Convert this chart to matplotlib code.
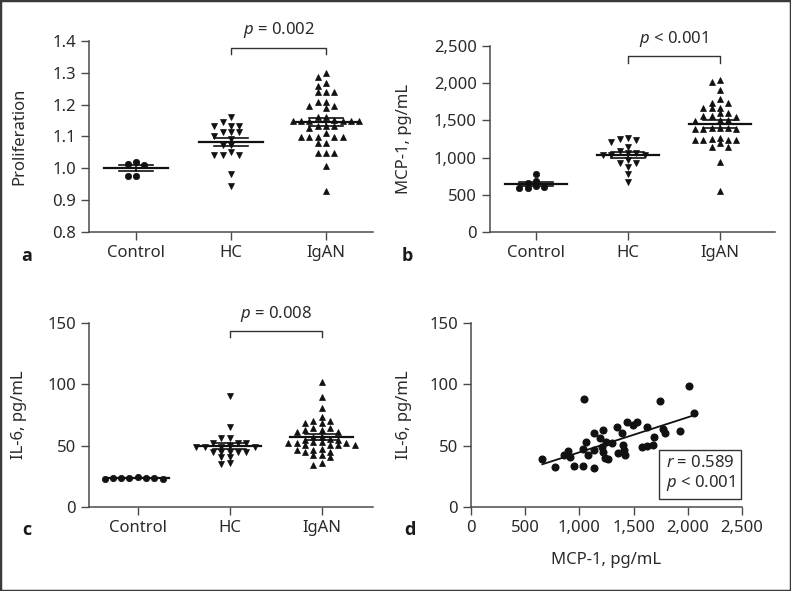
import numpy as np
import matplotlib
matplotlib.use("Agg")
import matplotlib.pyplot as plt
from matplotlib.patches import Rectangle
from matplotlib.ticker import FuncFormatter

plt.rcParams['font.family'] = ['Noto Sans', 'DejaVu Sans']
plt.rcParams['mathtext.fontset'] = 'custom'
plt.rcParams['mathtext.it'] = 'Noto Sans:italic'
plt.rcParams['mathtext.rm'] = 'Noto Sans'

# ---------------- data ----------------
groups = ["Control", "HC", "IgAN"]

prolif_control = [1.021, 1.013, 1.012, 0.977, 0.977]
prolif_hc = [1.160, 1.146, 1.133, 1.133, 1.133, 1.113, 1.113, 1.113, 1.100, 1.093,
             1.073, 1.073, 1.050, 1.042, 1.042, 1.042, 0.982, 0.943]
prolif_igan = [1.299, 1.286, 1.269, 1.260, 1.239, 1.239, 1.239, 1.209, 1.209, 1.196,
               1.196, 1.189, 1.162, 1.162, 1.150, 1.149, 1.149, 1.152, 1.149, 1.149,
               1.150, 1.133, 1.133, 1.133, 1.126, 1.110, 1.098, 1.098, 1.098, 1.098,
               1.098, 1.079, 1.079, 1.049, 1.049, 1.049, 1.008, 0.929]

mcp_control = [780, 660, 620, 590, 590, 600, 690]
mcp_hc = [1250, 1214, 1240, 1260, 1138, 1089, 1060, 1040, 1040, 1040, 1060, 968,
          923, 923, 878, 780, 668]
mcp_igan = [2016, 2043, 1908, 1787, 1738, 1738, 1673, 1660, 1673, 1603, 1603, 1559,
            1550, 1559, 1500, 1510, 1496, 1394, 1380, 1390, 1400, 1394, 1380, 1236,
            1192, 1260, 1236, 1250, 1236, 1230, 1138, 1138, 937, 551]

il6_control = [24.7, 23.4, 23.4, 23.2, 23.2, 23.4, 23.6, 23.6]
il6_hc = [90.5, 65.5, 56.0, 56.0, 52.4, 52.4, 52.4, 49.2, 49.2, 50.0, 49.2, 49.2,
          45.1, 45.1, 45.1, 45.1, 45.1, 41.0, 41.0, 35.0, 36.1]
il6_igan = [102.0, 89.4, 80.4, 73.1, 70.0, 68.2, 68.2, 70.0, 62.8, 61.4, 64.4, 64.4,
            61.4, 62.8, 57.3, 57.3, 54.6, 53.2, 54.6, 55.5, 53.2, 51.9, 51.9, 50.5,
            50.5, 51.9, 50.5, 50.5, 46.5, 45.1, 47.5, 45.1, 46.5, 42.4, 41.0, 42.4,
            34.2, 35.6]

scatter_mcp = [658, 775, 858, 898, 913, 950, 1036, 1138, 1045, 1036, 1058, 1076, 1138,
               1138, 1190, 1221, 1205, 1221, 1236, 1267, 1245, 1298, 1344, 1390, 1353,
               1405, 1414, 1420, 1436, 1497, 1528, 1620, 1580, 1620, 1682, 1691, 1768,
               1790, 1744, 1928, 2014, 2060]
scatter_il6 = [39.1, 32.9, 42.4, 45.9, 41.0, 33.7, 33.7, 31.5, 87.8, 47.3, 53.2, 42.4,
               46.5, 60.1, 56.0, 62.8, 49.2, 45.1, 39.7, 38.9, 53.2, 51.9, 65.5, 60.6,
               44.3, 50.5, 46.5, 42.4, 69.0, 66.8, 69.5, 65.5, 48.7, 49.7, 50.5, 57.3,
               63.3, 60.6, 86.4, 62.2, 98.6, 76.9]

p_texts = ["$p$ = 0.002", "$p$ < 0.001", "$p$ = 0.008"]
corr_text = "$r$ = 0.589\n$p$ < 0.001"

# ---------------- layout ----------------
W, H = 791, 591
fig = plt.figure(figsize=(W / 100, H / 100), dpi=100)
SPINE = '#4a4a4a'
TXT = '#2a2a2a'
PT = '#111111'


def add_ax(l, t, r, b):
    ax = fig.add_axes([l / W, 1 - b / H, (r - l) / W, (b - t) / H])
    for s in ['top', 'right']:
        ax.spines[s].set_visible(False)
    for s in ['left', 'bottom']:
        ax.spines[s].set_color(SPINE)
        ax.spines[s].set_linewidth(1.1)
    ax.tick_params(direction='out', length=5.5, width=1.0, color=SPINE,
                   labelsize=12, labelcolor=TXT, pad=4)
    return ax


def comma(v, pos):
    return f"{int(round(v)):,}"


def swarm(ax, vals, center, marker, ms):
    vals = np.asarray(vals, float)
    x0, x1 = ax.get_xlim()
    y0, y1 = ax.get_ylim()
    bb = ax.get_position()
    xpp = (x1 - x0) / (bb.width * W)
    ypp = (y1 - y0) / (bb.height * H)
    step = 8.3
    order = np.argsort(-vals, kind='stable')
    placed = []
    xs = np.zeros(len(vals))
    for i in order:
        ypx = (vals[i] - y0) / ypp
        for k in [0, -1, 1, -2, 2, -3, 3, -4, 4, -5, 5]:
            xpx = k * step
            ok = all(not (abs(xpx - px) < step * 0.95 and abs(ypx - py) < 5.0)
                     for px, py in placed)
            if ok:
                break
        placed.append((xpx, ypx))
        xs[i] = center + xpx * xpp
    ax.plot(xs, vals, linestyle='none', marker=marker, ms=ms, color=PT,
            mec=PT, mew=0.5, zorder=3, clip_on=False)
    m = vals.mean()
    sem = vals.std(ddof=1) / np.sqrt(len(vals))
    ax.plot([center - 0.34, center + 0.34], [m, m], color=PT, lw=1.6, zorder=4)
    for v in (m - sem, m + sem):
        ax.plot([center - 0.18, center + 0.18], [v, v], color=PT, lw=1.2, zorder=4)
    ax.plot([center, center], [m - sem, m + sem], color=PT, lw=1.2, zorder=4)


def bracket(ax, low, high, ytext, text):
    ax.plot([1, 1, 2, 2], [low, high, high, low], color='#333333', lw=1.0,
            clip_on=False)
    ax.text(1.5, ytext, text, ha='center', va='center', fontsize=12, color=TXT,
            clip_on=False)


def column_panel(ax, data, ylabel, markers, ms):
    ax.set_xticks(range(3))
    ax.set_xticklabels(groups)
    for i, (vals, mk, s) in enumerate(zip(data, markers, ms)):
        swarm(ax, vals, i, mk, s)
    ax.set_ylabel(ylabel, fontsize=12, color=TXT)


markers = ['o', 'v', '^']
msizes = [4.6, 4.6, 4.6]

# panel a
axa = add_ax(89, 41, 373, 232)
axa.set_xlim(-0.495, 2.495)
axa.set_ylim(0.8, 1.4)
axa.set_yticks(np.arange(0.8, 1.41, 0.1))
axa.yaxis.set_major_formatter(FuncFormatter(lambda v, p: f"{v:.1f}"))
column_panel(axa, [prolif_control, prolif_hc, prolif_igan], "Proliferation", markers, msizes)
axa.yaxis.set_label_coords(-0.218, 0.5)
bracket(axa, 1.359, 1.377, 1.434, p_texts[0])

# panel b
axb = add_ax(490, 46, 775, 232)
axb.set_xlim(-0.5, 2.6)
axb.set_ylim(0, 2500)
axb.set_yticks(np.arange(0, 2501, 500))
axb.yaxis.set_major_formatter(FuncFormatter(comma))
column_panel(axb, [mcp_control, mcp_hc, mcp_igan], "MCP-1, pg/mL", markers, msizes)
axb.yaxis.set_label_coords(-0.274, 0.5)
bracket(axb, 2275, 2370, 2594, p_texts[1])

# panel c
axc = add_ax(89, 323, 373, 507)
axc.set_xlim(-0.53, 2.56)
axc.set_ylim(0, 150)
axc.set_yticks([0, 50, 100, 150])
column_panel(axc, [il6_control, il6_hc, il6_igan], "IL-6, pg/mL", markers, msizes)
axc.yaxis.set_label_coords(-0.218, 0.5)
bracket(axc, 138.3, 143.7, 157.5, p_texts[2])

# panel d
axd = add_ax(471, 323, 742, 507)
axd.set_xlim(0, 2500)
axd.set_ylim(0, 150)
axd.set_yticks([0, 50, 100, 150])
axd.set_xticks(np.arange(0, 2501, 500))
axd.xaxis.set_major_formatter(FuncFormatter(comma))
axd.plot(scatter_mcp, scatter_il6, linestyle='none', marker='o', ms=4.8, color=PT,
         zorder=3)
xs = np.array(scatter_mcp, float)
ys = np.array(scatter_il6, float)
k, b0 = np.polyfit(xs, ys, 1)
xl = np.array([xs.min(), xs.max()])
axd.plot(xl, k * xl + b0, color=PT, lw=1.3, zorder=2)
axd.set_ylabel("IL-6, pg/mL", fontsize=12, color=TXT)
axd.yaxis.set_label_coords(-0.218, 0.5)
axd.set_xlabel("MCP-1, pg/mL", fontsize=12, color=TXT)
axd.xaxis.set_label_coords(0.5, -0.245)
axd.text(0.973, 0.078, corr_text, transform=axd.transAxes, ha='right', va='bottom',
         fontsize=12, color=TXT, linespacing=1.15,
         bbox=dict(boxstyle='square,pad=0.4', fc='white', ec='#333333', lw=1.0))

# panel letters
for lab, (px, py) in zip("abcd", [(27, 256), (407, 256), (27, 530), (410, 530)]):
    fig.text(px / W, 1 - py / H, lab, fontsize=13, fontweight='bold', ha='center',
             va='center', color='#1a1a1a', family=['Open Sans', 'DejaVu Sans'])

# figure frame
fig.patches.append(Rectangle((0, 0), 1, 1, transform=fig.transFigure, fill=False,
                             lw=2.5, ec='#3a3a3a'))

fig.savefig("out.png", dpi=100)
